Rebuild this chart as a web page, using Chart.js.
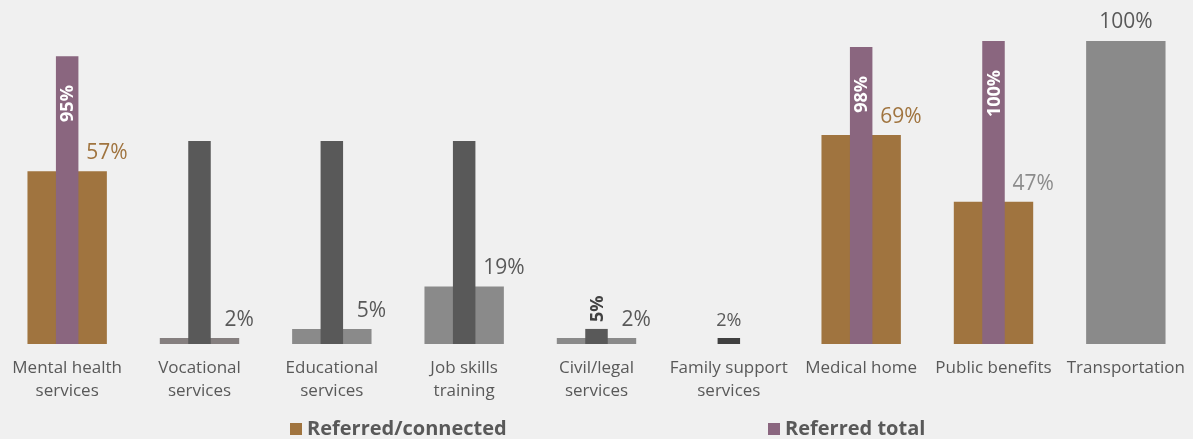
<!DOCTYPE html>
<html lang="en">
<head>
    <meta charset="UTF-8">
    <title>Referrals by service</title>
    <script src="https://cdn.jsdelivr.net/npm/chart.js"></script>
    <style>
        body { margin: 0; background: #f0f0f0; }
        #wrap { width: 1193px; height: 439px; }
    </style>
</head>
<body>
    <div id="wrap"><canvas id="referralsChart" width="1193" height="439"></canvas></div>

    <script>
        // Services on the x axis (multi-line labels)
        const categories = [
            ['Mental health', 'services'],
            ['Vocational', 'services'],
            ['Educational', 'services'],
            ['Job skills', 'training'],
            ['Civil/legal', 'services'],
            ['Family support', 'services'],
            ['Medical home'],
            ['Public benefits'],
            ['Transportation']
        ];

        // Percent of youth referred and connected (wide bars)
        const connected = [57, 2, 5, 19, 2, null, 69, 47, 100];
        // Percent referred in total (narrow bars)
        const referredTotal = [95, 67, 67, 67, 5, 2, 98, 100, null];
        // Which narrow bars carry a value label
        const totalLabelled = [true, false, false, false, true, true, true, true, false];

        const seriesNames = ['Referred/connected', 'Referred total'];

        // per-category colours
        const wideColors = ['#a0743f', '#857f7f', '#8a8a8a', '#8a8a8a', '#8a8a8a', '#8a8a8a', '#a0743f', '#a0743f', '#8a8a8a'];
        const narrowColors = ['#8a667f', '#595959', '#595959', '#595959', '#595959', '#404040', '#8a667f', '#8a667f', '#595959'];
        const wideLabelColors = ['#a0743f', '#595959', '#595959', '#595959', '#595959', '#595959', '#a0743f', '#8c8c8c', '#595959'];
        const legendColors = ['#a0743f', '#8a667f'];

        const FONT = '"Open Sans", "Noto Sans", sans-serif';

        // value labels drawn on top of the bars
        const valueLabels = {
            id: 'valueLabels',
            afterDatasetsDraw(chart) {
                const ctx = chart.ctx;
                const wide = chart.getDatasetMeta(0).data;
                const narrow = chart.getDatasetMeta(1).data;
                ctx.save();

                wide.forEach((bar, i) => {
                    const v = connected[i];
                    if (v === null) return;
                    ctx.font = '21px ' + FONT;
                    ctx.fillStyle = wideLabelColors[i];
                    ctx.textBaseline = 'alphabetic';
                    ctx.textAlign = 'center';
                    if (referredTotal[i] === null) {
                        ctx.fillText(v + '%', bar.x, bar.y - 13);
                    } else {
                        ctx.fillText(v + '%', bar.x + bar.width / 2, bar.y - 12);
                    }
                });

                narrow.forEach((bar, i) => {
                    const v = referredTotal[i];
                    if (v === null || !totalLabelled[i]) return;
                    if (v < 3) {
                        // too short to hold text: plain label above
                        ctx.font = '18px ' + FONT;
                        ctx.fillStyle = '#595959';
                        ctx.textAlign = 'center';
                        ctx.textBaseline = 'alphabetic';
                        ctx.fillText(v + '%', bar.x, bar.y - 12);
                        return;
                    }
                    ctx.save();
                    ctx.translate(bar.x, bar.y);
                    ctx.rotate(-Math.PI / 2);
                    ctx.font = 'bold 18px ' + FONT;
                    ctx.textBaseline = 'middle';
                    if (v < 20) {
                        ctx.fillStyle = '#404040';
                        ctx.textAlign = 'left';
                        ctx.fillText(v + '%', 7, 1);
                    } else {
                        ctx.fillStyle = '#ffffff';
                        ctx.textAlign = 'right';
                        ctx.fillText(v + '%', -29, 1);
                    }
                    ctx.restore();
                });
                ctx.restore();
            }
        };

        // legend laid out along the bottom edge
        const bottomLegend = {
            id: 'bottomLegend',
            afterDraw(chart) {
                const ctx = chart.ctx;
                const xs = [290, 768];
                ctx.save();
                ctx.font = 'bold 20px ' + FONT;
                ctx.textBaseline = 'alphabetic';
                ctx.textAlign = 'left';
                seriesNames.forEach((name, i) => {
                    ctx.fillStyle = legendColors[i];
                    ctx.fillRect(xs[i], 423, 12, 12);
                    ctx.fillStyle = '#595959';
                    ctx.fillText(name, xs[i] + 17, 435);
                });
                ctx.restore();
            }
        };

        const ctx = document.getElementById('referralsChart').getContext('2d');

        new Chart(ctx, {
            type: 'bar',
            data: {
                labels: categories,
                datasets: [
                    {
                        label: seriesNames[0],
                        data: connected,
                        backgroundColor: wideColors,
                        barPercentage: 0.6,
                        categoryPercentage: 1,
                        grouped: false,
                        order: 1
                    },
                    {
                        label: seriesNames[1],
                        data: referredTotal,
                        backgroundColor: narrowColors,
                        barPercentage: 0.17,
                        categoryPercentage: 1,
                        grouped: false,
                        order: 0
                    }
                ]
            },
            options: {
                responsive: false,
                devicePixelRatio: 1,
                animation: false,
                layout: {
                    padding: { top: 41, left: 1, right: 1, bottom: 24 }
                },
                plugins: {
                    legend: { display: false },
                    tooltip: { enabled: false }
                },
                scales: {
                    x: {
                        grid: { display: false, drawTicks: false },
                        border: { display: false },
                        ticks: {
                            color: '#595959',
                            font: { family: FONT, size: 17, lineHeight: 1.38 },
                            padding: 12,
                            maxRotation: 0,
                            autoSkip: false
                        },
                        // the end labels fit inside their own category, no extra side padding
                        afterFit(scale) {
                            scale.paddingLeft = 0;
                            scale.paddingRight = 0;
                        }
                    },
                    y: {
                        display: false,
                        min: 0,
                        max: 100
                    }
                }
            },
            plugins: [valueLabels, bottomLegend]
        });
    </script>
</body>
</html>
